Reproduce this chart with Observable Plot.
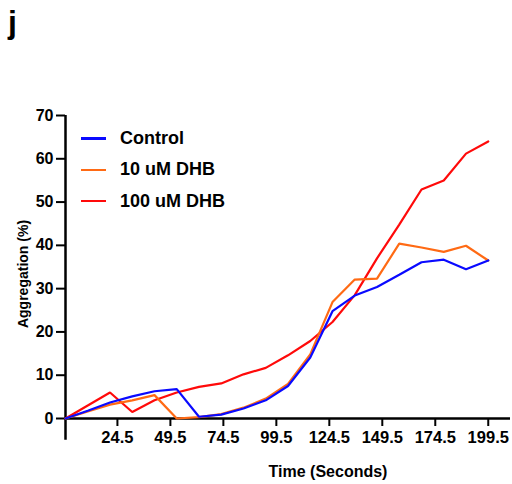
<!DOCTYPE html>
<html>
<head>
<meta charset="utf-8">
<script src="https://cdn.jsdelivr.net/npm/d3@7"></script>
<script src="https://cdn.jsdelivr.net/npm/@observablehq/plot@0.6"></script>
<style>
  html, body { margin: 0; padding: 0; background: #fff; }
  #wrap { position: relative; width: 512px; height: 484px; font-family: "Liberation Sans", Arial, sans-serif; }
  #panel { position: absolute; left: 8px; top: 6px; font-size: 32px; font-weight: bold; line-height: 1; }
  #legend { position: absolute; left: 81px; top: 123px; }
  .item { display: flex; align-items: center; height: 31.3px; font-size: 18px; font-weight: bold; }
  .swatch { width: 25px; height: 2.5px; margin-right: 14px; }
</style>
</head>
<body>
<div id="wrap">
  <div id="chart"></div>
  <div id="panel">j</div>
  <div id="legend"></div>
</div>
<script>
// Sampling times (s)
const times = [0, 10.5, 21, 31.5, 42, 52.5, 63, 73.5, 84, 94.5, 105, 115.5, 126, 136.5, 147, 157.5, 168, 178.5, 189, 199.5];

// Aggregation (%) per condition
const control = [0, 1.8, 3.7, 5.1, 6.3, 6.8, 0.4, 0.9, 2.3, 4.2, 7.5, 14.1, 24.8, 28.4, 30.4, 33.2, 36.1, 36.7, 34.5, 36.5];
const dhb10   = [0, 1.6, 3.2, 4.2, 5.4, 0, 0.3, 1.0, 2.5, 4.6, 8.0, 14.8, 26.9, 32.1, 32.3, 40.4, 39.5, 38.5, 39.9, 36.5];
const dhb100  = [0, 3.0, 6.0, 1.5, 4.2, 6.0, 7.3, 8.1, 10.2, 11.7, 14.6, 17.9, 22.3, 28.5, 37.0, 44.8, 52.9, 55.0, 61.2, 64.0];

const seriesNames = ["Control", "10 uM DHB", "100 uM DHB"];
const seriesColors = ["#0a0aff", "#ff6a14", "#ff0a0a"];

const xTicks = [24.5, 49.5, 74.5, 99.5, 124.5, 149.5, 174.5, 199.5];
const yTicks = [0, 10, 20, 30, 40, 50, 60, 70];

const toRows = (vals, name) => vals.map((v, i) => ({time: times[i], value: v, series: name}));
const rows = {
  Control: toRows(control, "Control"),
  "10 uM DHB": toRows(dhb10, "10 uM DHB"),
  "100 uM DHB": toRows(dhb100, "100 uM DHB")
};
const color = Object.fromEntries(seriesNames.map((n, i) => [n, seriesColors[i]]));

// vertical axis line runs a little below the origin
const yAxisExtent = {y1: -5, y2: 70};

const chart = Plot.plot({
  width: 512,
  height: 484,
  marginLeft: 65,
  marginRight: 2,
  marginTop: 115,
  marginBottom: 66,
  style: {fontFamily: "Liberation Sans, Arial, sans-serif", fontWeight: "bold", fontSize: "16px", color: "#000", background: "#fff"},
  x: {domain: [0, 210]},
  y: {domain: [0, 70]},
  marks: [
    Plot.axisY({ticks: yTicks, tickSize: 9, tickPadding: 3, strokeWidth: 2, label: null, fontSize: 16}),
    Plot.axisX({ticks: xTicks, tickSize: 8, tickPadding: 5, strokeWidth: 2, label: null, fontSize: 16.5, tickFormat: d => d.toFixed(1)}),
    Plot.ruleY([0], {stroke: "#000", strokeWidth: 2.5}),
    Plot.ruleX([0], {...yAxisExtent, stroke: "#000", strokeWidth: 2.5, clip: false}),
    ...["100 uM DHB", "10 uM DHB", "Control"].map(n =>
      Plot.line(rows[n], {x: "time", y: "value", stroke: color[n], strokeWidth: 2.2, strokeLinejoin: "miter"})
    ),
    Plot.text(["Time (Seconds)"], {frameAnchor: "bottom", textAnchor: "middle", dx: 40, dy: 58, fontSize: 16, fontWeight: "bold", fill: "#000"}),
    Plot.text(["Aggregation (%)"], {frameAnchor: "left", textAnchor: "middle", dx: -42, dy: 7, rotate: -90, fontSize: 14, fontWeight: "bold", fill: "#000"})
  ]
});
document.getElementById("chart").appendChild(chart);

// legend
const legend = document.getElementById("legend");
seriesNames.forEach((n, i) => {
  const item = document.createElement("div");
  item.className = "item";
  const sw = document.createElement("div");
  sw.className = "swatch";
  sw.style.background = seriesColors[i];
  const label = document.createElement("span");
  label.textContent = n;
  item.appendChild(sw);
  item.appendChild(label);
  legend.appendChild(item);
});
</script>
</body>
</html>
